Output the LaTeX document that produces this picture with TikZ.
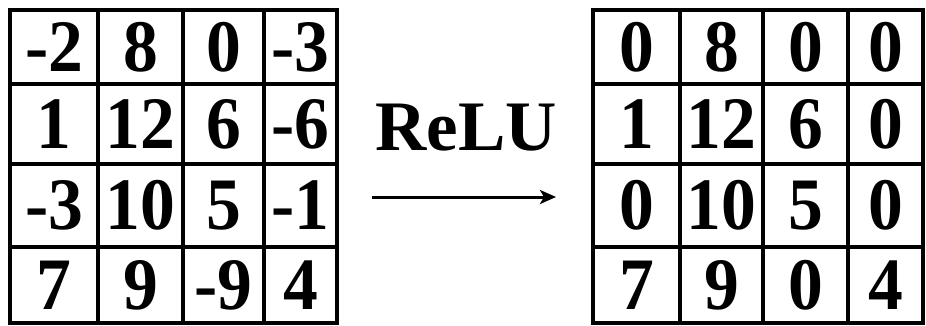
\documentclass[tikz,border=0pt]{standalone}
\usepackage{fontspec}
\setmainfont{Liberation Serif}
\usetikzlibrary{arrows.meta}

\newcommand{\cellval}[1]{\scalebox{0.94}[1]{#1}}

\begin{document}
\begin{tikzpicture}[x=1pt, y=-1pt, >={Stealth[length=16pt, width=14pt, inset=4pt]},
  cell/.style={draw=black, line width=3.5pt, inner sep=0pt,
    font=\fontsize{74}{74}\selectfont\bfseries}]

\useasboundingbox (0,0) rectangle (926,326);

% --- Input map (before ReLU) ---
\foreach \c/\xc/\w/\v in {1/54/88/-2, 2/140.5/85/8, 3/223.5/81/0, 4/300.5/73/-3}
  \node[cell, minimum width=\w pt, minimum height=74pt] (in1\c) at (\xc,47) {\cellval{\v}};
\foreach \c/\xc/\w/\v in {1/54/88/1, 2/140.5/85/12, 3/223.5/81/6, 4/300.5/73/-6}
  \node[cell, minimum width=\w pt, minimum height=80pt] (in2\c) at (\xc,124) {\cellval{\v}};
\foreach \c/\xc/\w/\v in {1/54/88/-3, 2/140.5/85/10, 3/223.5/81/5, 4/300.5/73/-1}
  \node[cell, minimum width=\w pt, minimum height=83pt] (in3\c) at (\xc,205.5) {\cellval{\v}};
\foreach \c/\xc/\w/\v in {1/54/88/7, 2/140.5/85/9, 3/223.5/81/-9, 4/300.5/73/4}
  \node[cell, minimum width=\w pt, minimum height=76pt] (in4\c) at (\xc,285) {\cellval{\v}};

% --- Operation ---
\node[font=\fontsize{71}{71}\selectfont\bfseries] (relu) at (466,128) {ReLU};
\coordinate (arrS) at (372,197);
\coordinate (arrE) at (556,197);
\draw[->, line width=3pt] (arrS) -- (arrE);

% --- Output map (after ReLU) ---
\foreach \c/\xc/\w/\v in {1/636.5/87/0, 2/721.5/83/8, 3/805.5/85/0, 4/885.5/75/0}
  \node[cell, minimum width=\w pt, minimum height=74pt] (out1\c) at (\xc,47) {\cellval{\v}};
\foreach \c/\xc/\w/\v in {1/636.5/87/1, 2/721.5/83/12, 3/805.5/85/6, 4/885.5/75/0}
  \node[cell, minimum width=\w pt, minimum height=80pt] (out2\c) at (\xc,124) {\cellval{\v}};
\foreach \c/\xc/\w/\v in {1/636.5/87/0, 2/721.5/83/10, 3/805.5/85/5, 4/885.5/75/0}
  \node[cell, minimum width=\w pt, minimum height=83pt] (out3\c) at (\xc,205.5) {\cellval{\v}};
\foreach \c/\xc/\w/\v in {1/636.5/87/7, 2/721.5/83/9, 3/805.5/85/0, 4/885.5/75/4}
  \node[cell, minimum width=\w pt, minimum height=76pt] (out4\c) at (\xc,285) {\cellval{\v}};

\end{tikzpicture}
\end{document}
